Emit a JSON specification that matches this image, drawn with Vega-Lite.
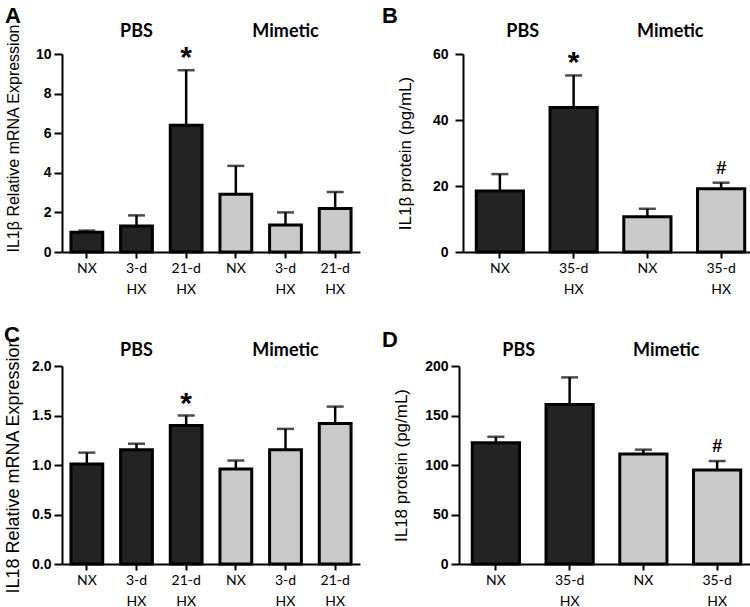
{
  "$schema": "https://vega.github.io/schema/vega-lite/v6.json",
  "background": "white",
  "padding": {"left": 3, "top": 5, "right": 0, "bottom": 0},
  "datasets": {
    "A": [
      {"group": "PBS", "id": "PBS|NX", "value": 1.0, "upper": 1.08, "sig": ""},
      {"group": "PBS", "id": "PBS|3-d HX", "value": 1.31, "upper": 1.85, "sig": ""},
      {"group": "PBS", "id": "PBS|21-d HX", "value": 6.4, "upper": 9.18, "sig": "*"},
      {"group": "Mimetic", "id": "Mimetic|NX", "value": 2.92, "upper": 4.35, "sig": ""},
      {"group": "Mimetic", "id": "Mimetic|3-d HX", "value": 1.36, "upper": 2.0, "sig": ""},
      {"group": "Mimetic", "id": "Mimetic|21-d HX", "value": 2.2, "upper": 3.03, "sig": ""}
    ],
    "B": [
      {"group": "PBS", "id": "PBS|NX", "value": 18.5, "upper": 23.6, "sig": ""},
      {"group": "PBS", "id": "PBS|35-d HX", "value": 43.8, "upper": 53.5, "sig": "*"},
      {"group": "Mimetic", "id": "Mimetic|NX", "value": 10.7, "upper": 13.1, "sig": ""},
      {"group": "Mimetic", "id": "Mimetic|35-d HX", "value": 19.2, "upper": 21.0, "sig": "#"}
    ],
    "C": [
      {"group": "PBS", "id": "PBS|NX", "value": 1.01, "upper": 1.125, "sig": ""},
      {"group": "PBS", "id": "PBS|3-d HX", "value": 1.155, "upper": 1.215, "sig": ""},
      {"group": "PBS", "id": "PBS|21-d HX", "value": 1.4, "upper": 1.5, "sig": "*"},
      {"group": "Mimetic", "id": "Mimetic|NX", "value": 0.96, "upper": 1.045, "sig": ""},
      {"group": "Mimetic", "id": "Mimetic|3-d HX", "value": 1.155, "upper": 1.365, "sig": ""},
      {"group": "Mimetic", "id": "Mimetic|21-d HX", "value": 1.42, "upper": 1.59, "sig": ""}
    ],
    "D": [
      {"group": "PBS", "id": "PBS|NX", "value": 122.5, "upper": 128.5, "sig": ""},
      {"group": "PBS", "id": "PBS|35-d HX", "value": 161, "upper": 188.5, "sig": ""},
      {"group": "Mimetic", "id": "Mimetic|NX", "value": 111, "upper": 115.5, "sig": ""},
      {"group": "Mimetic", "id": "Mimetic|35-d HX", "value": 95, "upper": 104, "sig": "#"}
    ]
  },
  "config": {
    "view": {"stroke": null},
    "font": "Liberation Sans",
    "title": {"anchor": "start", "frame": "bounds", "fontSize": 22, "fontWeight": "bold", "font": "Liberation Sans", "color": "black", "offset": -6},
    "axis": {"domainColor": "black", "domainWidth": 2, "tickColor": "black", "tickWidth": 2, "labelColor": "black", "titleColor": "black", "grid": false},
    "axisBottom": {"tickSize": 6, "labelPadding": 3, "labelFont": "Lato", "labelFontSize": 14, "labelAngle": 0, "labelLineHeight": 21, "title": null, "labelExpr": "split(split(datum.label, '|')[1], ' ')"},
    "axisTop": {"domain": false, "ticks": false, "tickSize": 0, "labelFont": "Lato", "labelFontSize": 18, "labelFontWeight": "bold", "labelAngle": 0, "title": null, "labelPadding": 14},
    "axisY": {"tickSize": 8, "labelPadding": 3, "labelFont": "Liberation Sans", "labelFontWeight": "bold", "labelFontSize": 13, "labelOverlap": false, "titleFont": "Liberation Sans", "titleFontWeight": "normal", "titleFontSize": 17, "titlePadding": 12, "minExtent": 28, "maxExtent": 28},
    "concat": {"spacing": 22}
  },
  "spacing": 28,
  "vconcat": [
    {
      "hconcat": [
        {
          "title": {"text": "A"},
          "data": {"name": "A"},
          "width": 298, "height": 198,
          "resolve": {"scale": {"x": "independent"}, "axis": {"x": "independent"}},
          "layer": [
            {
              "encoding": {
                "x": {"field": "id", "type": "nominal", "sort": null, "scale": {"paddingInner": 0.36, "paddingOuter": 0.18}, "axis": {"orient": "bottom"}},
                "y": {"field": "value", "type": "quantitative", "scale": {"domain": [0, 10], "nice": false}, "axis": {"values": [0, 2, 4, 6, 8, 10], "labelFontWeight": "bold", "labelFontSize": 14, "labelColor": "black", "titleFontSize": 16, "titlePadding": 13, "title": "IL1β Relative mRNA Expression", "titleAnchor": "start"}}
              },
              "layer": [
                {"mark": {"type": "rule", "color": "black", "strokeWidth": 2.5}, "encoding": {"y2": {"field": "upper"}}},
                {"mark": {"type": "tick", "color": "black", "thickness": 2.5, "size": 17}, "encoding": {"y": {"field": "upper", "type": "quantitative"}}},
                {"mark": {"type": "bar", "stroke": "black", "strokeWidth": 3}, "encoding": {"fill": {"field": "group", "type": "nominal", "scale": {"domain": ["PBS", "Mimetic"], "range": ["#232323", "#cacaca"]}, "legend": null}}},
                {"transform": [{"filter": "datum.sig == '*'"}], "mark": {"type": "text", "fontSize": 30, "fontWeight": "bold", "font": "Liberation Sans", "color": "black", "baseline": "alphabetic", "dy": -3}, "encoding": {"y": {"field": "upper", "type": "quantitative"}, "text": {"field": "sig"}}}
              ]
            },
            {"mark": {"type": "rule", "strokeOpacity": 0}, "encoding": {"x": {"field": "group", "type": "nominal", "sort": ["PBS", "Mimetic"], "axis": {"orient": "top"}}}}
          ]
        },
        {
          "title": {"text": "B", "dx": -14},
          "data": {"name": "B"},
          "width": 295, "height": 198,
          "resolve": {"scale": {"x": "independent"}, "axis": {"x": "independent"}},
          "layer": [
            {
              "encoding": {
                "x": {"field": "id", "type": "nominal", "sort": null, "scale": {"paddingInner": 0.36, "paddingOuter": 0.18}, "axis": {"orient": "bottom"}},
                "y": {"field": "value", "type": "quantitative", "scale": {"domain": [0, 60], "nice": false}, "axis": {"values": [0, 20, 40, 60], "labelFontWeight": "bold", "labelFontSize": 14, "labelColor": "black", "labelPadding": 7, "titlePadding": 17, "minExtent": 32, "maxExtent": 32, "title": "IL1β protein (pg/mL)"}}
              },
              "layer": [
                {"mark": {"type": "rule", "color": "black", "strokeWidth": 2.5}, "encoding": {"y2": {"field": "upper"}}},
                {"mark": {"type": "tick", "color": "black", "thickness": 2.5, "size": 17}, "encoding": {"y": {"field": "upper", "type": "quantitative"}}},
                {"mark": {"type": "bar", "stroke": "black", "strokeWidth": 3}, "encoding": {"fill": {"field": "group", "type": "nominal", "scale": {"domain": ["PBS", "Mimetic"], "range": ["#232323", "#cacaca"]}, "legend": null}}},
                {"transform": [{"filter": "datum.sig == '*'"}], "mark": {"type": "text", "fontSize": 30, "fontWeight": "bold", "font": "Liberation Sans", "color": "black", "baseline": "alphabetic", "dy": -3}, "encoding": {"y": {"field": "upper", "type": "quantitative"}, "text": {"field": "sig"}}},
                {"transform": [{"filter": "datum.sig == '#'"}], "mark": {"type": "text", "fontSize": 18, "fontWeight": "bold", "font": "Liberation Sans", "color": "black", "baseline": "alphabetic", "dy": -9}, "encoding": {"y": {"field": "upper", "type": "quantitative"}, "text": {"field": "sig"}}}
              ]
            },
            {"mark": {"type": "rule", "strokeOpacity": 0}, "encoding": {"x": {"field": "group", "type": "nominal", "sort": ["PBS", "Mimetic"], "axis": {"orient": "top", "labelOffset": -14}}}}
          ]
        }
      ]
    },
    {
      "hconcat": [
        {
          "title": {"text": "C", "offset": -11},
          "data": {"name": "C"},
          "width": 298, "height": 198,
          "resolve": {"scale": {"x": "independent"}, "axis": {"x": "independent"}},
          "layer": [
            {
              "encoding": {
                "x": {"field": "id", "type": "nominal", "sort": null, "scale": {"paddingInner": 0.36, "paddingOuter": 0.18}, "axis": {"orient": "bottom"}},
                "y": {"field": "value", "type": "quantitative", "scale": {"domain": [0, 2], "nice": false}, "axis": {"values": [0, 0.5, 1, 1.5, 2], "format": ".1f", "labelFontWeight": "bold", "labelFontSize": 14, "labelColor": "black", "titleFontSize": 18, "title": "IL18 Relative mRNA Expression"}}
              },
              "layer": [
                {"mark": {"type": "rule", "color": "black", "strokeWidth": 2.5}, "encoding": {"y2": {"field": "upper"}}},
                {"mark": {"type": "tick", "color": "black", "thickness": 2.5, "size": 17}, "encoding": {"y": {"field": "upper", "type": "quantitative"}}},
                {"mark": {"type": "bar", "stroke": "black", "strokeWidth": 3}, "encoding": {"fill": {"field": "group", "type": "nominal", "scale": {"domain": ["PBS", "Mimetic"], "range": ["#232323", "#cacaca"]}, "legend": null}}},
                {"transform": [{"filter": "datum.sig == '*'"}], "mark": {"type": "text", "fontSize": 30, "fontWeight": "bold", "font": "Liberation Sans", "color": "black", "baseline": "alphabetic", "dy": -3}, "encoding": {"y": {"field": "upper", "type": "quantitative"}, "text": {"field": "sig"}}}
              ]
            },
            {"mark": {"type": "rule", "strokeOpacity": 0}, "encoding": {"x": {"field": "group", "type": "nominal", "sort": ["PBS", "Mimetic"], "axis": {"orient": "top", "labelPadding": 7}}}}
          ]
        },
        {
          "title": {"text": "D", "dx": -10, "offset": -11},
          "data": {"name": "D"},
          "width": 295, "height": 198,
          "resolve": {"scale": {"x": "independent"}, "axis": {"x": "independent"}},
          "layer": [
            {
              "encoding": {
                "x": {"field": "id", "type": "nominal", "sort": null, "scale": {"paddingInner": 0.36, "paddingOuter": 0.18}, "axis": {"orient": "bottom"}},
                "y": {"field": "value", "type": "quantitative", "scale": {"domain": [0, 200], "nice": false}, "axis": {"values": [0, 50, 100, 150, 200], "labelFontWeight": "bold", "labelFontSize": 14, "labelColor": "black", "titlePadding": 17, "minExtent": 32, "maxExtent": 32, "title": "IL18 protein (pg/mL)"}}
              },
              "layer": [
                {"mark": {"type": "rule", "color": "black", "strokeWidth": 2.5}, "encoding": {"y2": {"field": "upper"}}},
                {"mark": {"type": "tick", "color": "black", "thickness": 2.5, "size": 17}, "encoding": {"y": {"field": "upper", "type": "quantitative"}}},
                {"mark": {"type": "bar", "stroke": "black", "strokeWidth": 3}, "encoding": {"fill": {"field": "group", "type": "nominal", "scale": {"domain": ["PBS", "Mimetic"], "range": ["#232323", "#cacaca"]}, "legend": null}}},
                {"transform": [{"filter": "datum.sig == '#'"}], "mark": {"type": "text", "fontSize": 18, "fontWeight": "bold", "font": "Liberation Sans", "color": "black", "baseline": "alphabetic", "dy": -9}, "encoding": {"y": {"field": "upper", "type": "quantitative"}, "text": {"field": "sig"}}}
              ]
            },
            {"mark": {"type": "rule", "strokeOpacity": 0}, "encoding": {"x": {"field": "group", "type": "nominal", "sort": ["PBS", "Mimetic"], "axis": {"orient": "top", "labelPadding": 7, "labelOffset": -14}}}}
          ]
        }
      ]
    }
  ]
}
